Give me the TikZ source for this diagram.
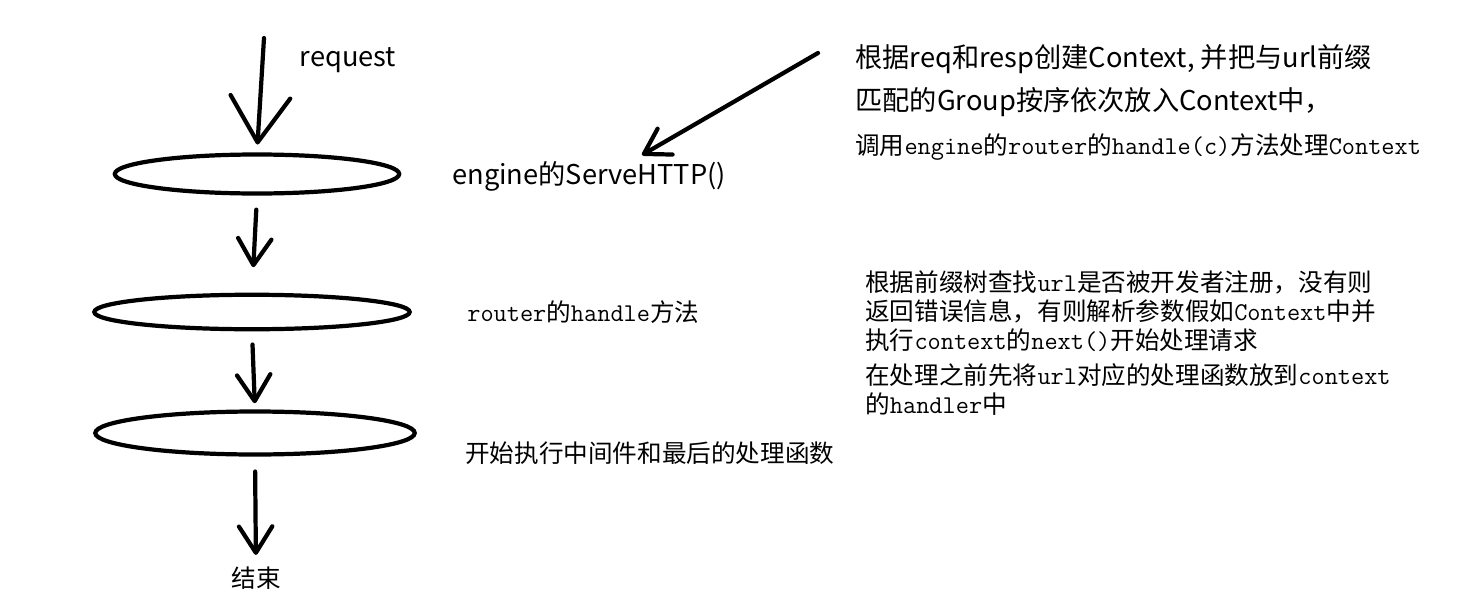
\documentclass[tikz,border=0pt]{standalone}
\usepackage{fontspec}
\setmainfont{Noto Sans CJK SC}
\setmonofont{Latin Modern Mono}[Scale=1.04]
\usetikzlibrary{arrows.meta,shapes.geometric}

\tikzset{
  flow/.style={line width=2.4pt, line cap=round, -{Straight Barb[round,length=15pt,width=19pt]}},
  stage/.style={draw, ellipse, line width=2.4pt, inner sep=0pt},
  big/.style={font=\fontsize{15.5}{18}\selectfont, inner sep=0pt},
  small/.style={font=\fontsize{14}{16.4}\selectfont, inner sep=0pt, align=left},
}
\newcommand{\cd}[1]{{\ttfamily #1}}

\begin{document}
\begin{tikzpicture}[x=0.02cm, y=-0.02cm]
  \useasboundingbox (0,0) rectangle (1475,602);

  % 三个阶段
  \node[stage, minimum width=5.69cm, minimum height=0.78cm] (engine) at (257,174) {};
  \node[stage, minimum width=6.31cm, minimum height=0.69cm] (router) at (252,312) {};
  \node[stage, minimum width=6.39cm, minimum height=0.86cm] (handler) at (255,433) {};
  \node[small] (end) at (256,578) {结束};

  % 左边的箭头
  \coordinate (req) at (264,38);
  \draw[flow, -{Straight Barb[round,length=26pt,width=34pt]}, shorten >=4.5pt] (req) -- (engine.north);
  \draw[flow, shorten <=8pt, shorten >=14.5pt] (engine.south) -- (router.north);
  \draw[flow, shorten <=7.5pt, shorten >=3.5pt] (router.south) -- (handler.north);
  \draw[flow, shorten <=8.5pt, shorten >=6.5pt] (handler.south) -- (end.north);

  % 文字说明
  \node[big] (reqtext) at (348,60) {request};
  \node[big, anchor=west] (servehttp) at (452,176) {engine的ServeHTTP()};
  \node[small, anchor=west] (routertext) at (467,312) {\cd{router}的\cd{handle}方法};
  \node[small, anchor=west] (handlertext) at (465,453) {开始执行中间件和最后的处理函数};

  % 右上角的说明
  \node[big, anchor=west] (ctx1) at (855,59) {根据req和resp创建Context, 并把与url前缀};
  \node[big, anchor=west] (ctx2) at (855,102) {匹配的Group按序依次放入Context中，};
  \node[small, anchor=west] (ctx3) at (855,147) {调用\cd{engine}的\cd{router}的\cd{handle(c)}方法处理\cd{Context}};
  \coordinate (ctxfrom) at (818,53);
  \coordinate (ctxtip) at (642,155);
  \draw[flow, -{Straight Barb[round,length=14pt,width=17pt]}] (ctxfrom) -- (ctxtip);

  % 右边中间的说明
  \node[small, anchor=west] (lookup) at (865,311) {根据前缀树查找\cd{url}是否被开发者注册，没有则\\返回错误信息，有则解析参数假如\cd{Context}中并\\执行\cd{context}的\cd{next()}开始处理请求};
  \node[small, anchor=west] (prepare) at (865,389.5) {在处理之前先将\cd{url}对应的处理函数放到\cd{context}\\的\cd{handler}中};
\end{tikzpicture}
\end{document}
